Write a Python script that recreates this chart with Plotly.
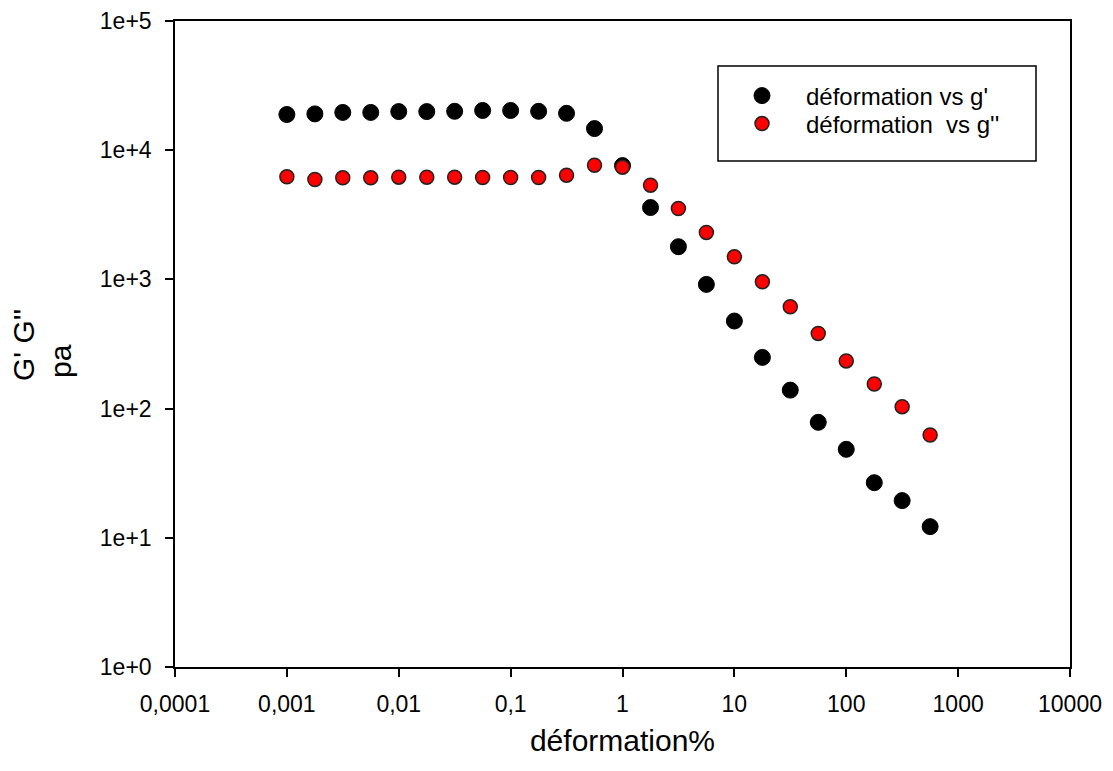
import plotly.graph_objects as go

# strain (%) - same for both series
deformation = [0.001, 0.00178, 0.00316, 0.00562, 0.01, 0.0178, 0.0316, 0.0562,
               0.1, 0.178, 0.316, 0.562, 1.0, 1.78, 3.16, 5.62, 10.0, 17.8,
               31.6, 56.2, 100.0, 178.0, 316.0, 562.0]
# storage modulus G'
g_prime = [18900, 19100, 19600, 19600, 19900, 19900, 20000, 20300, 20300, 20000,
           19300, 14700, 7600, 3600, 1790, 915, 476, 249, 139, 78.3, 48.4,
           26.7, 19.4, 12.2]
# loss modulus G''
g_second = [6220, 5930, 6110, 6110, 6180, 6180, 6180, 6150, 6150, 6150,
            6410, 7660, 7390, 5360, 3540, 2310, 1496, 958, 614, 382, 234,
            155, 103.5, 62.5]

x_tick_vals = [0.0001, 0.001, 0.01, 0.1, 1, 10, 100, 1000, 10000]
x_tick_text = ["0,0001", "0,001", "0,01", "0,1", "1", "10", "100", "1000", "10000"]
y_tick_vals = [1, 10, 100, 1000, 10000, 100000]
y_tick_text = ["1e+0", "1e+1", "1e+2", "1e+3", "1e+4", "1e+5"]

FONT = "Liberation Sans, Arial, sans-serif"

# page body has an 8px margin, so work in page pixels and shift by 8
OFF = 8
W, H = 1113 - OFF, 771 - OFF
L, R, T, B = 175 - OFF, 1113 - 1070, 21 - OFF, 771 - 667
PW, PH = W - L - R, H - T - B


def px_x(px):
    return (px - OFF - L) / PW


def px_y(py):
    return 1 - (py - OFF - T) / PH


fig = go.Figure()
fig.add_trace(go.Scatter(
    x=deformation, y=g_prime, mode="markers", name="déformation vs g'",
    marker=dict(color="black", size=16, line=dict(color="black", width=1)),
    legend="legend",
))
fig.add_trace(go.Scatter(
    x=deformation, y=g_second, mode="markers", name="déformation\u00a0 vs g''",
    marker=dict(color="#ff0000", size=14, line=dict(color="#222222", width=1.5)),
    legend="legend2",
))

axis_common = dict(
    type="log", showgrid=False, zeroline=False, showline=True, linecolor="black",
    linewidth=1.5, mirror=True, ticks="outside", ticklen=8, tickwidth=1.5,
    tickcolor="black", tickfont=dict(family=FONT, size=23, color="black"),
    automargin=False,
)

legend_common = dict(
    xanchor="left", yanchor="middle", x=px_x(718),
    bgcolor="rgba(0,0,0,0)", borderwidth=0,
    font=dict(family=FONT, size=24, color="black"), itemwidth=78,
)

fig.update_layout(
    width=W, height=H,
    margin=dict(l=L, r=R, t=T, b=B),
    paper_bgcolor="white", plot_bgcolor="white",
    showlegend=True,
    xaxis=dict(
        axis_common, range=[-4, 4], tickvals=x_tick_vals, ticktext=x_tick_text,
        ticklabelstandoff=8,
        title=dict(text="déformation%", font=dict(family=FONT, size=30, color="black"),
                   standoff=14),
    ),
    yaxis=dict(
        axis_common, range=[0, 5], tickvals=y_tick_vals, ticktext=y_tick_text,
        ticklabelstandoff=9,
    ),
    legend=dict(legend_common, y=px_y(96)),
    legend2=dict(legend_common, y=px_y(124)),
    shapes=[dict(type="rect", xref="paper", yref="paper",
                 x0=px_x(718), x1=px_x(1036), y0=px_y(161), y1=px_y(66),
                 line=dict(color="black", width=1.5))],
    annotations=[
        dict(text="G' G''", textangle=-90, xref="paper", yref="paper",
             x=px_x(23), y=px_y(345), xanchor="center", yanchor="middle",
             showarrow=False, font=dict(family=FONT, size=30, color="black")),
        dict(text="pa", textangle=-90, xref="paper", yref="paper",
             x=px_x(60), y=px_y(380), xanchor="center", yanchor="bottom",
             showarrow=False, font=dict(family=FONT, size=30, color="black")),
    ],
)

fig.write_html("out.html")
